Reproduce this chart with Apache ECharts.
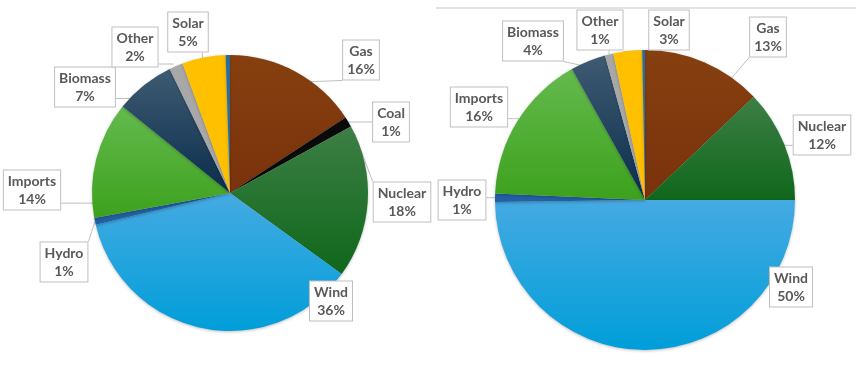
<!DOCTYPE html>
<html>
<head>
<meta charset="utf-8">
<script src="https://cdn.jsdelivr.net/npm/echarts@6/dist/echarts.min.js"></script>
<style>
html,body{margin:0;padding:0;background:#fff;}
#chart{width:860px;height:370px;}
</style>
</head>
<body>
<div id="chart"></div>
<script>
// ---- data ----
var categories = ['Gas','Coal','Nuclear','Wind','Hydro','Imports','Biomass','Other','Solar','Storage'];
var leftValues  = [15.8, 1.2, 18.0, 36.3, 0.8, 13.7, 7.0, 1.6, 5.1, 0.5];
var rightValues = [12.9, 0,   12.1, 49.8, 0.9, 16.2, 3.8, 0.9, 3.1, 0.3];

// ---- styles ----
function grad(top, bottom){
  return {type:'linear',x:0,y:0,x2:0,y2:1,colorStops:[{offset:0,color:top},{offset:1,color:bottom}]};
}
var colors = {
  Gas: grad('#86400f','#7a320c'),
  Coal: '#0a0a0a',
  Nuclear: grad('#3d7f45','#0f671b'),
  Wind: grad('#45aae2','#009ed9'),
  Hydro: '#2160a4',
  Imports: grad('#64ba4d','#3da11d'),
  Biomass: grad('#3f5b73','#0a2d4b'),
  Other: '#a8a8a8',
  Solar: '#ffc000',
  Storage: '#2d6b9c'
};
var centers = [[230,193],[645,200]];
var radii = [138,150];
// label box centres and callout tips: tip = [fraction along slice, fraction of radius]
var labelLayouts = [
  {Gas:{pos:[361,60],tip:[0.55,0.94]}, Coal:{pos:[391,122],tip:[0.5,1]}, Nuclear:{pos:[402,202],tip:[0.05,1]},
   Wind:{pos:[331,301],tip:[0.31,0.76]}, Hydro:{pos:[64,262],tip:[0.5,1]}, Imports:{pos:[32,190],tip:[0.12,0.93]},
   Biomass:{pos:[85,87],tip:[0.34,0.93]}, Other:{pos:[135,47],tip:[0.4,1.02]}, Solar:{pos:[188,32],tip:[0.47,1]}},
  {Gas:{pos:[768,37],tip:[0.75,0.9]}, Nuclear:{pos:[822,135],tip:[0.51,1]},
   Wind:{pos:[791,287],tip:[0.24,0.79]}, Hydro:{pos:[462,200],tip:[0.5,1]}, Imports:{pos:[479,107],tip:[0.52,1]},
   Biomass:{pos:[533,41],tip:[0.24,1]}, Other:{pos:[600,30],tip:[0.5,1]}, Solar:{pos:[669,30],tip:[0.35,1]}}
];
var allValues = [leftValues, rightValues];

function pct(vals, i){
  var s = vals.reduce(function(a,b){return a+b;},0);
  return Math.round(vals[i]/s*100);
}
function tipPoint(si, i, t, f){
  var vals = allValues[si];
  var s = vals.reduce(function(a,b){return a+b;},0);
  var cum = 0; for (var k=0;k<i;k++) cum += vals[k];
  var ang = (cum + vals[i]*t)/s*2*Math.PI;
  var c = centers[si], r = radii[si]*f;
  return [c[0] + r*Math.sin(ang), c[1] - r*Math.cos(ang)];
}

function buildSeries(si){
  var vals = allValues[si];
  var data = [];
  categories.forEach(function(name, i){
    if (vals[i] <= 0) return;
    var item = {name:name, value:vals[i], itemStyle:{color:colors[name]}};
    if (!labelLayouts[si][name]) { item.label = {show:false}; item.labelLine = {show:false}; }
    data.push(item);
  });
  return {
    type:'pie',
    center: centers[si],
    radius: radii[si],
    startAngle: 90,
    clockwise: true,
    avoidLabelOverlap: false,
    animation: false,
    data: data,
    itemStyle: {borderWidth:0, shadowBlur:3, shadowOffsetY:1, shadowColor:'rgba(0,0,0,0.25)'},
    label: {
      show:true,
      position:'outside',
      formatter: function(p){ return p.name + '\n' + pct(vals, categories.indexOf(p.name)) + '%'; },
      fontFamily:'Lato', fontWeight:'bold', fontSize:14, lineHeight:18,
      color:'#595959', backgroundColor:'#ffffff', borderColor:'#bfbfbf', borderWidth:1,
      padding:[2,4,1,4], align:'center'
    },
    labelLine: {show:true, length:10, length2:10, smooth:false, lineStyle:{color:'#bfbfbf', width:1}},
    labelLayout: function(params){
      var name = categories.filter(function(c){return allValues[si][categories.indexOf(c)]>0;})[params.dataIndex];
      var L = labelLayouts[si][name];
      if (!L) return {};
      var idx = categories.indexOf(name);
      var tip = tipPoint(si, idx, L.tip[0], L.tip[1]);
      var w = params.labelRect.width, h = params.labelRect.height;
      var bx = L.pos[0]-w/2, by = L.pos[1]-h/2;
      var ax = Math.min(Math.max(tip[0], bx), bx+w);
      var ay = Math.min(Math.max(tip[1], by), by+h);
      return {
        x: L.pos[0], y: L.pos[1], align:'center', verticalAlign:'middle',
        labelLinePoints: [tip, [(tip[0]+ax)/2,(tip[1]+ay)/2], [ax, ay]]
      };
    }
  };
}

var chart = echarts.init(document.getElementById('chart'), null, {renderer:'canvas'});
chart.setOption({
  backgroundColor:'#ffffff',
  graphic:[{type:'line', shape:{x1:436,y1:8,x2:856,y2:8}, style:{stroke:'#d9d9d9', lineWidth:1.5}}],
  series:[buildSeries(0), buildSeries(1)]
});
</script>
</body>
</html>
